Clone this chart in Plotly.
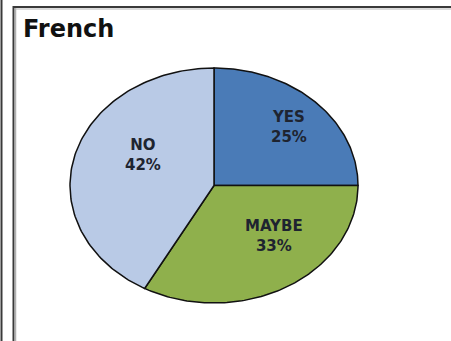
import numpy as np
import plotly.graph_objects as go

# Survey answers for French
categories = ["YES", "MAYBE", "NO"]
shares = [25, 33, 42]
colors = ["#4a7bb7", "#8fb04c", "#b9cae6"]

W, H = 451, 341
# pie centre (px) and half-axes of the oval (px); the axis scales stretch a unit circle into it
cx, cy, rx, ry = 214, 185.5, 144, 117.5
x_range = [-cx / rx, (W - cx) / rx]
y_range = [-(H - cy) / ry, cy / ry]

fig = go.Figure()

# slices run clockwise from 12 o'clock
start = 90.0
total = sum(shares)
for cat, val, col in zip(categories, shares, colors):
    sweep = 360.0 * val / total
    ang = np.radians(np.linspace(start, start - sweep, 120))
    xs = np.concatenate([[0], np.cos(ang), [0]])
    ys = np.concatenate([[0], np.sin(ang), [0]])
    fig.add_trace(go.Scatter(
        x=xs, y=ys, mode="lines", fill="toself", fillcolor=col,
        line=dict(color="#111111", width=1.5), hoverinfo="skip",
        showlegend=False, name=cat))
    start -= sweep

# label anchor points in unit-circle space (radius, angle in degrees)
label_pos = {"YES": (0.72, 44), "MAYBE": (0.60, -46), "NO": (0.56, 152)}
for cat, val in zip(categories, shares):
    r, a = label_pos[cat]
    fig.add_annotation(
        x=r * np.cos(np.radians(a)), y=r * np.sin(np.radians(a)),
        text=f"<b>{cat}<br>{val}%</b>", showarrow=False,
        font=dict(family="DejaVu Sans", size=15, color="#1e2430"),
        align="center")

def px(x):
    return x / W

def py(y):
    return 1 - y / H

# frame lines
shapes = [
    dict(type="line", xref="paper", yref="paper", x0=px(1.5), x1=px(1.5), y0=0, y1=1,
         line=dict(color="#3a3a3a", width=2)),
    dict(type="line", xref="paper", yref="paper", x0=px(13.5), x1=px(13.5), y0=0, y1=py(6),
         line=dict(color="#3a3a3a", width=2)),
    dict(type="line", xref="paper", yref="paper", x0=px(15.5), x1=px(15.5), y0=0, y1=py(8),
         line=dict(color="#b0b0b0", width=1.5)),
    dict(type="line", xref="paper", yref="paper", x0=px(13), x1=1, y0=py(7), y1=py(7),
         line=dict(color="#3a3a3a", width=2)),
    dict(type="line", xref="paper", yref="paper", x0=px(15), x1=1, y0=py(9), y1=py(9),
         line=dict(color="#b8b8b8", width=1)),
]

fig.add_annotation(
    xref="paper", yref="paper", x=px(21), y=py(28.5), xanchor="left", yanchor="middle",
    text="<b>French</b>", showarrow=False,
    font=dict(family="DejaVu Sans", size=24, color="#111111"))

fig.update_layout(
    width=W, height=H, margin=dict(l=0, r=0, t=0, b=0),
    paper_bgcolor="white", plot_bgcolor="white",
    xaxis=dict(range=x_range, visible=False, fixedrange=True),
    yaxis=dict(range=y_range, visible=False, fixedrange=True),
    shapes=shapes, showlegend=False)

fig.write_html("out.html")
